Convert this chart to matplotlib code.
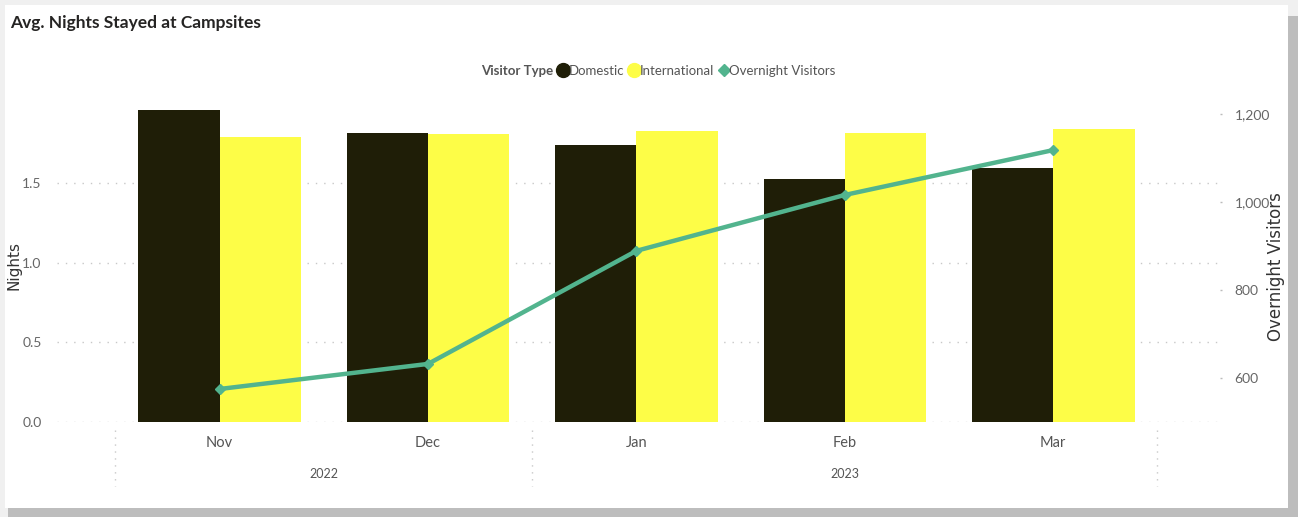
import numpy as np
import matplotlib
matplotlib.use("Agg")
import matplotlib.pyplot as plt
from matplotlib.patches import Rectangle
from matplotlib.lines import Line2D
from matplotlib.ticker import FuncFormatter

# ---- data ----
months = ["Nov", "Dec", "Jan", "Feb", "Mar"]
years = ["2022", "2023"]
year_spans = [(0, 1), (2, 4)]          # month index ranges per year
domestic = [1.96, 1.82, 1.74, 1.53, 1.60]
international = [1.79, 1.81, 1.83, 1.82, 1.84]
overnight = [575, 632, 889, 1016, 1118]

DARK = "#1f1e07"
YELLOW = "#fdfd47"
GREEN = "#52b48e"
GRID = "#c8c8c8"
TXT = "#666666"

plt.rcParams["font.family"] = ["Lato", "DejaVu Sans"]

W, H = 1298, 517
fig = plt.figure(figsize=(W / 100, H / 100), dpi=100)
fig.patch.set_facecolor("#f0f0f0")

# card with shadow
fig.patches.append(Rectangle((8 / W, 0), 1 - 8 / W, 1 - 16 / H, transform=fig.transFigure,
                             facecolor="#bdbdbd", edgecolor="none", zorder=-2))
fig.patches.append(Rectangle((5 / W, 9 / H), 1283 / W, 503 / H, transform=fig.transFigure,
                             facecolor="white", edgecolor="none", zorder=-1))

# axes area: x 57..1220, y 100..422 (pixels from top)
ax = fig.add_axes([57 / W, 1 - 422 / H, (1220 - 57) / W, (422 - 100) / H])
ax.set_facecolor("none")
x = np.arange(len(months))
bw = 0.39

ax.bar(x - bw / 2, domestic, bw, color=DARK, zorder=2)
ax.bar(x + bw / 2, international, bw, color=YELLOW, zorder=2)

ax.set_xlim(-0.78, 4.80)
ax.set_ylim(0, 2.025)
ax.set_yticks([0, 0.5, 1.0, 1.5])
ax.yaxis.set_major_formatter(FuncFormatter(lambda v, p: f"{v:.1f}"))
ax.grid(axis="y", linestyle=(0, (1, 5)), color=GRID, linewidth=1, zorder=0)
ax.tick_params(axis="y", length=0, pad=11, labelsize=10, labelcolor=TXT)
ax.set_xticks([])
for s in ax.spines.values():
    s.set_visible(False)

ax2 = ax.twinx()
ax2.plot(x, overnight, color=GREEN, linewidth=3.2, marker="D", markersize=5, zorder=5)
ax2.set_ylim(500, 1231.8)
ax2.set_yticks([600, 800, 1000, 1200])
ax2.yaxis.set_major_formatter(FuncFormatter(lambda v, p: f"{int(v):,}"))
ax2.tick_params(axis="y", length=1.5, width=1, color="#bbbbbb", pad=9, labelsize=10,
                labelcolor=TXT)
for s in ax2.spines.values():
    s.set_visible(False)

# axis titles
fig.text(14 / W, 1 - 265 / H, "Nights", rotation=90, fontsize=11, color="#333333",
         family="DejaVu Sans", ha="center", va="center")
fig.text(1276 / W, 1 - 267 / H, "Overnight Visitors", rotation=90, fontsize=12,
         color="#333333", family="DejaVu Sans", ha="center", va="center")

# hierarchical x axis
trans = ax.get_xaxis_transform()
for i, m in enumerate(months):
    ax.text(x[i], -0.065, m, transform=trans, ha="center", va="center",
            fontsize=10.5, color="#555555")
for (a, b), yr in zip(year_spans, years):
    ax.text((a + b) / 2, -0.162, yr, transform=trans, ha="center", va="center",
            fontsize=9, color="#555555")
for sx in [-0.5, 1.5, 4.5]:
    ax.plot([sx, sx], [-0.025, -0.2], transform=trans, color=GRID,
            linestyle=(0, (1, 4)), linewidth=1, clip_on=False)

# title
fig.text(10 / W, 1 - 23 / H, "Avg. Nights Stayed at Campsites", fontsize=12.5,
         fontweight="bold", color="#252423", va="center", ha="left")

# legend
fig.text(553 / W, 1 - 71 / H, "Visitor Type", fontsize=9.5, fontweight="bold",
         color="#555555", va="center", ha="right")
handles = [
    Line2D([], [], marker="o", linestyle="none", markersize=10, color=DARK),
    Line2D([], [], marker="o", linestyle="none", markersize=10, color=YELLOW),
    Line2D([], [], marker="D", linestyle="none", markersize=6.5, color=GREEN),
]
leg = fig.legend(handles, ["Domestic", "International", "Overnight Visitors"],
                 loc="center left", bbox_to_anchor=(558 / W, 1 - 71 / H), ncol=3,
                 frameon=False, fontsize=9.5, handlelength=0.8, handletextpad=0.05,
                 columnspacing=0.3, borderpad=0, borderaxespad=0)
for t in leg.get_texts():
    t.set_color("#555555")

fig.savefig("out.png", dpi=100, facecolor=fig.get_facecolor())
